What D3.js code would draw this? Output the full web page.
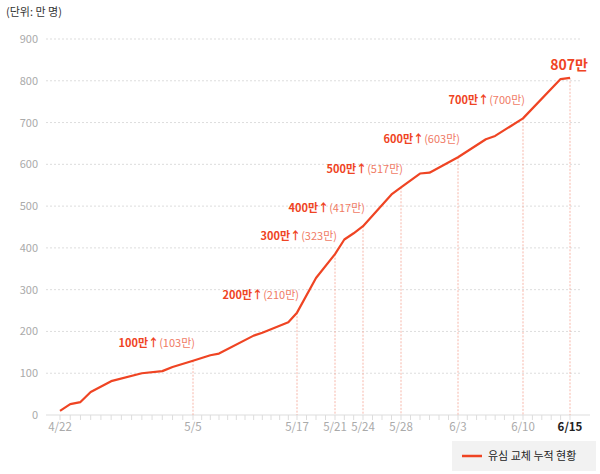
<!DOCTYPE html><html><head><meta charset="utf-8"><script src="https://cdn.jsdelivr.net/npm/d3@7"></script>
<style>body{margin:0;background:#fff;font-family:"Noto Sans CJK KR","Noto Sans",sans-serif}</style></head><body><svg id="c" width="600" height="474"></svg>
<script>
const dates=["04-22","04-23","04-24","04-25","04-27","04-30","05-02","05-03","05-05","05-07","05-08","05-12","05-13","05-16","05-17","05-19","05-21","05-22","05-23","05-24","05-27","05-28","05-30","05-31","06-03","06-06","06-07","06-10","06-14","06-15"];
const values=[10,26,31,55,81,100,105,115,130,143,147,190,197,222,245,328,385,420,435,452,528,545,578,580,617,660,668,710,804,807];
const milestoneDates=["05-05","05-17","05-21","05-24","05-28","06-03","06-10"];
const milestoneMain=["100만↑","200만↑","300만↑","400만↑","500만↑","600만↑","700만↑"];
const milestoneSub=["(103만)","(210만)","(323만)","(417만)","(517만)","(603만)","(700만)"];
const tickDates=["04-22","05-05","05-17","05-21","05-24","05-28","06-03","06-10","06-15"];
const yTicks=[0,100,200,300,400,500,600,700,800,900];
const P=s=>new Date(Date.UTC(2025,+s.slice(0,2)-1,+s.slice(3)));
const svg=d3.select("#c"),red="#ef4423";
const x=d3.scaleUtc().domain(tickDates.map(P)).range([60,193,297,335,363,401,458,523,570]);
const y=d3.scaleLinear().domain([0,900]).range([415,39]);
svg.append("text").attr("x",6).attr("y",16).attr("font-size",11).attr("fill","#333").text("(단위: 만 명)");
yTicks.forEach(t=>{
 if(t>0)svg.append("line").attr("x1",46).attr("x2",582).attr("y1",y(t)).attr("y2",y(t)).attr("stroke","#ddd").attr("stroke-dasharray","2,2");
 svg.append("text").attr("x",38).attr("y",y(t)+4).attr("text-anchor","end").attr("font-size",11).attr("fill","#aaa").text(t);
});
svg.append("line").attr("x1",46).attr("x2",590).attr("y1",415).attr("y2",415).attr("stroke","#ddd");
d3.utcDays(P("04-22"),d3.utcDay.offset(P("06-15"),1)).forEach(d=>svg.append("line").attr("x1",x(d)).attr("x2",x(d)).attr("y1",415).attr("y2",420).attr("stroke","#ddd"));
tickDates.forEach((t,i)=>{const d=P(t);svg.append("text").attr("x",x(d)).attr("y",431).attr("text-anchor","middle").attr("font-size",11.5)
 .attr("fill",i==tickDates.length-1?"#222":"#aaa").attr("font-weight",i==tickDates.length-1?"bold":"normal").text(+t.slice(0,2)+"/"+ +t.slice(3));});
const val=s=>values[dates.indexOf(s)];
[...milestoneDates,"06-15"].forEach(t=>svg.append("line").attr("x1",x(P(t))).attr("x2",x(P(t))).attr("y1",y(val(t))).attr("y2",415).attr("stroke","#f5a494").attr("stroke-dasharray","2,1.5").attr("stroke-width",0.8));
svg.append("path").datum(dates.map((d,i)=>[P(d),values[i]])).attr("fill","none").attr("stroke",red).attr("stroke-width",2.2).attr("stroke-linejoin","round")
 .attr("d",d3.line().x(d=>x(d[0])).y(d=>y(d[1])));
milestoneDates.forEach((t,i)=>{const tx=svg.append("text").attr("x",x(P(t))+2).attr("y",y(val(t))-14).attr("text-anchor","end").attr("font-size",11).attr("fill",red);
 tx.append("tspan").attr("font-weight","bold").text(milestoneMain[i]);tx.append("tspan").attr("fill","#f07a64").text(milestoneSub[i]);});
svg.append("text").attr("x",x(P("06-15"))+18).attr("y",y(807)-8).attr("text-anchor","end").attr("font-size",14).attr("font-weight","bold").attr("fill",red).text("807만");
svg.append("rect").attr("x",452).attr("y",441).attr("width",144).attr("height",30).attr("fill","#f2f2f2");
svg.append("line").attr("x1",462).attr("x2",482).attr("y1",456).attr("y2",456).attr("stroke",red).attr("stroke-width",2.5);
svg.append("text").attr("x",488).attr("y",460).attr("font-size",11).attr("fill","#222").text("유심 교체 누적 현황");
</script></body></html>
